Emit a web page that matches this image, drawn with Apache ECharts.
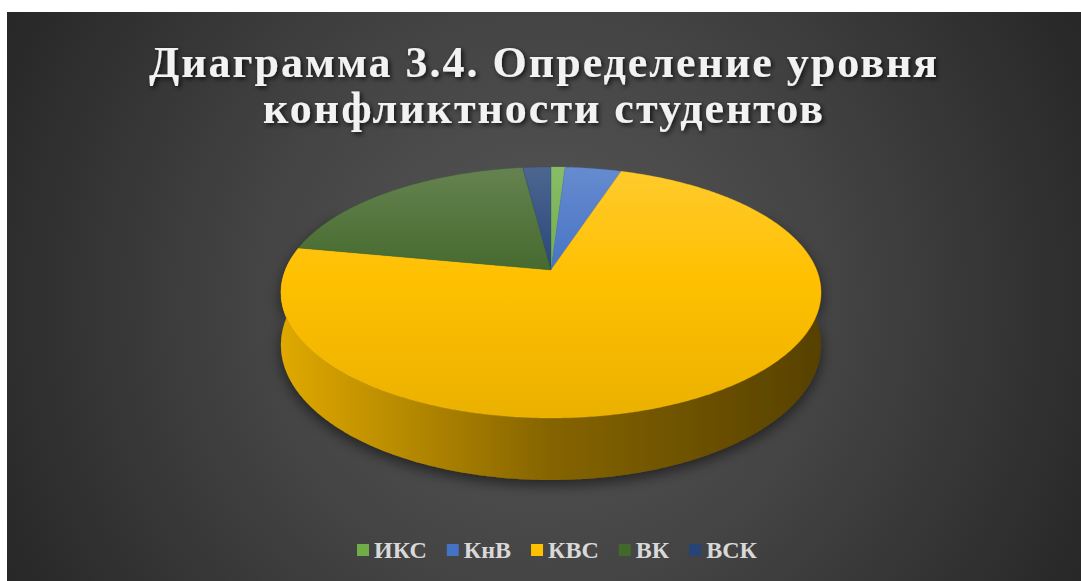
<!DOCTYPE html>
<html><head><meta charset="utf-8">
<script src="https://cdn.jsdelivr.net/npm/echarts@6/dist/echarts.min.js"></script>
<style>
html,body{margin:0;padding:0;background:#fff;width:1081px;height:581px;overflow:hidden}
#chart{position:absolute;left:7px;top:12px;width:1074px;height:569px}
#chart text[style*="44px"]{letter-spacing:2px}
</style></head><body><div id="chart"></div>
<script>
const categories = ['ИКС', 'КнВ', 'КВС', 'ВК', 'ВСК'];
const values = [1, 4, 73, 20, 2];
const colors = ['#70AD47', '#4472C4', '#FFC000', '#43682B', '#264478'];
const titleText = 'Диаграмма 3.4. Определение уровня\nконфликтности студентов';

// projection parameters (pixels relative to pie centre)
const P = 0.179, A = 121.5, B = 265.7, D = 50.9;

function hexToRgb(h){h=h.replace('#','');return [parseInt(h.substr(0,2),16),parseInt(h.substr(2,2),16),parseInt(h.substr(4,2),16)];}
function mix(hex, k, toWhite){
  const c = hexToRgb(hex);
  const r = c.map(v => toWhite ? Math.round(v + (255 - v) * k) : Math.round(v * k));
  return 'rgb(' + r.join(',') + ')';
}
function proj(deg, bottom){
  const t = deg * Math.PI / 180;
  const u = Math.sin(t), v = Math.cos(t);
  const s = 1 / (1 + P * v);
  return [B * u * s, A * v * s - (bottom ? D * s : 0)];
}

const total = values.reduce((a, b) => a + b, 0);
let acc = 0;
const angles = values.map(v => { const s = acc; acc += v / total * 360; return [s, acc]; });

function makeRender(idx){
  return function(params, api){
    const start = api.value(0), end = api.value(1);
    const col = colors[idx];
    const children = [];
    const L = api.coord([-270, 0]), R = api.coord([270, 0]);
    const T = api.coord([0, 103]), Bt = api.coord([0, -148]);
    // side
    const a = Math.max(start, 60), b = Math.min(end, 300);
    if (a < b) {
      const pts = [];
      const n = Math.max(2, Math.ceil((b - a) / 0.5));
      for (let i = 0; i <= n; i++) pts.push(api.coord(proj(a + (b - a) * i / n, false)));
      for (let i = n; i >= 0; i--) pts.push(api.coord(proj(a + (b - a) * i / n, true)));
      children.push({
        type: 'polygon', z2: 1,
        shape: { points: pts },
        style: {
          fill: { type: 'linear', global: true, x: L[0], y: 0, x2: R[0], y2: 0,
            colorStops: [
              { offset: 0, color: mix(col, 0.88) },
              { offset: 0.5, color: mix(col, 0.52) },
              { offset: 1, color: mix(col, 0.34) }
            ] },
          shadowColor: 'rgba(0,0,0,0.55)', shadowBlur: 14, shadowOffsetY: 5
        }
      });
    }
    // top face
    const tp = [api.coord([0, 0])];
    const n2 = Math.max(2, Math.ceil((end - start) / 0.5));
    for (let i = 0; i <= n2; i++) tp.push(api.coord(proj(start + (end - start) * i / n2, false)));
    children.push({
      type: 'polygon', z2: 10,
      shape: { points: tp },
      style: {
        fill: { type: 'linear', global: true, x: 0, y: T[1], x2: 0, y2: Bt[1],
          colorStops: [
            { offset: 0, color: mix(col, 0.18, true) },
            { offset: 0.45, color: col },
            { offset: 1, color: mix(col, 0.92) }
          ] },
        stroke: col, lineWidth: 0.3
      }
    });
    return { type: 'group', children: children };
  };
}

const series = categories.map((name, i) => ({
  name: name,
  type: 'custom',
  coordinateSystem: 'cartesian2d',
  itemStyle: { color: colors[i] },
  encode: { x: 0, y: 1 },
  renderItem: makeRender(i),
  data: [angles[i]],
  clip: false,
  silent: true
}));

const chart = echarts.init(document.getElementById('chart'), null, { renderer: 'svg' });
chart.setOption({
  animation: false,
  backgroundColor: {
    type: 'radial', global: true, x: 537, y: 290, r: 640,
    colorStops: [
      { offset: 0, color: '#585858' },
      { offset: 0.45, color: '#444444' },
      { offset: 1, color: '#242424' }
    ]
  },
  title: {
    text: titleText,
    left: 'center', top: 22,
    padding: [5, 0, 5, 9],
    textStyle: {
      fontFamily: 'Liberation Serif', fontWeight: 'bold', fontSize: 44,
      color: '#F2F2F2', lineHeight: 46,
      textShadowColor: 'rgba(0,0,0,0.75)', textShadowBlur: 5,
      textShadowOffsetX: 2, textShadowOffsetY: 2
    }
  },
  legend: {
    data: categories,
    left: 345, top: 521,
    icon: 'rect', itemWidth: 12, itemHeight: 12, itemGap: 20,
    textStyle: { fontFamily: 'Liberation Serif', fontWeight: 'bold', fontSize: 24, color: '#D9D9D9' }
  },
  grid: { left: 244, top: 108, width: 600, height: 400 },
  xAxis: { type: 'value', min: -300, max: 300, show: false },
  yAxis: { type: 'value', min: -250, max: 150, show: false },
  series: series
});
</script></body></html>
